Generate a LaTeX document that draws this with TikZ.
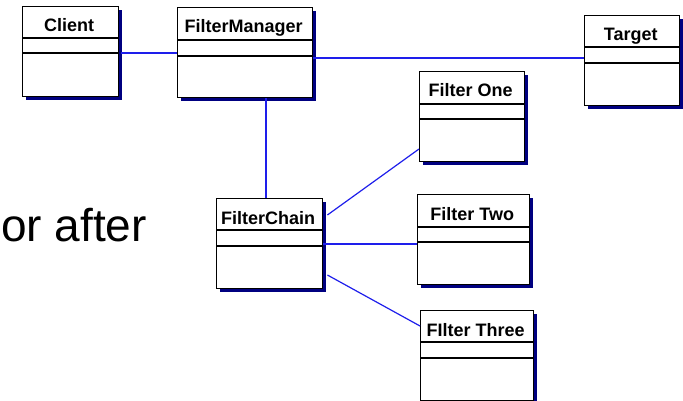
\documentclass[tikz,border=0pt]{standalone}
\usepackage{fontspec}
\setmainfont{Liberation Sans}
\usetikzlibrary{calc}
\definecolor{shadownavy}{RGB}{0,0,128}
\definecolor{linkblue}{RGB}{30,30,235}
\begin{document}
\begin{tikzpicture}[x=1pt,y=-1pt,
  classbox/.style={draw=black,line width=1.4pt,fill=white,rectangle,inner sep=0pt,
    minimum height=90pt,anchor=north west},
  boxshadow/.style={fill=shadownavy},
  title/.style={font=\bfseries\fontsize{18}{20}\selectfont,anchor=base,inner sep=0pt},
  link/.style={draw=linkblue,line width=1.2pt},
  divider/.style={draw=black,line width=1.4pt}]
\useasboundingbox (0,0) rectangle (683,401);

% class box: name, x, y, width, title, first and second divider depth
\newcommand{\classbox}[7]{%
  \fill[boxshadow] (#2+4,#3+4) rectangle (#2+#4+4,#3+94);
  \node[classbox,minimum width=#4 pt] (#1) at (#2,#3) {};
  \node[title] (#1-name) at ($(#1.north)+(-1.5,26)$) {#5};
  \draw[divider] ($(#1.north west)+(0,#6)$) -- ($(#1.north east)+(0,#6)$);
  \draw[divider] ($(#1.north west)+(0,#7)$) -- ($(#1.north east)+(0,#7)$);
}

\classbox{client}{22}{6}{96}{Client}{32}{47}
\classbox{manager}{177}{7}{135}{FilterManager}{33}{49}
\classbox{target}{584}{15}{95}{Target}{32}{48}
\classbox{one}{419}{71}{105}{Filter One}{33}{48}
\classbox{chain}{216}{198}{106}{FilterChain}{32}{48}
\classbox{two}{417}{194}{112}{Filter Two}{33}{48}
\classbox{three}{420}{310}{113}{FIlter Three}{32}{48}

% associations
\draw[link] ([xshift=2pt]client.east |- 0,53) -- (manager.west |- 0,53);
\draw[link] (manager.east |- 0,58) -- (target.west |- 0,58);
\draw[link] (manager.south -| 266,0) -- (chain.north -| 266,0);
\draw[link] ([xshift=4pt]chain.east |- 0,215) -- (one.west |- 0,149);
\draw[link] (chain.east |- 0,244) -- (two.west |- 0,244);
\draw[link] ([xshift=4pt]chain.east |- 0,275) -- (three.west |- 0,326);

\node[anchor=base west,inner sep=0pt,font=\fontsize{46}{50}\selectfont] (afterlabel) at (1,241) {or after};
\end{tikzpicture}
\end{document}
